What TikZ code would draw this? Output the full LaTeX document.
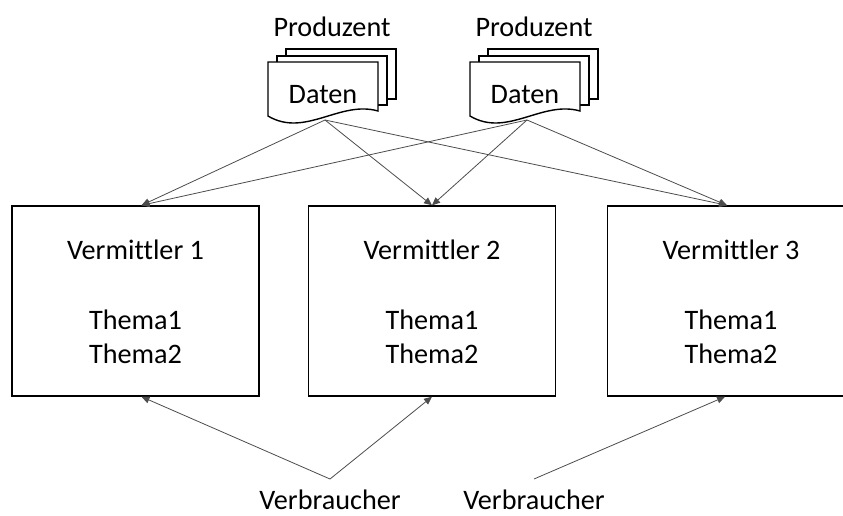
\documentclass[tikz,border=0pt]{standalone}
\usepackage{fontspec}
\setmainfont{Carlito}[Ligatures=NoCommon]
\usetikzlibrary{arrows.meta}
\begin{document}
\begin{tikzpicture}[x=1pt,y=-1pt,
  lbl/.style={font=\fontsize{28.2}{34}\selectfont, inner sep=0pt, anchor=base},
  broker/.style={draw=black, line width=1.4pt, minimum width=247pt, minimum height=190pt, inner sep=0pt},
  page/.style={draw=black, line width=1.4pt, fill=white},
  link/.style={draw=black!70, line width=0.8pt, -{Triangle[length=8pt,width=7pt]}}
]
\useasboundingbox (0,0) rectangle (843,515);
\clip (0,0) rectangle (843,515);

% producers: stacks of data sheets
\foreach \i/\dx in {1/0, 2/202} {
  \begin{scope}[xshift=\dx pt]
    \draw[page] (286,49) rectangle (396,99);
    \draw[page] (277,56) rectangle (387,105);
    \draw[page] (268,62) -- (378,62) -- (378,111)
      .. controls (340,100) and (305,138) .. (268,116) -- cycle;
    \node[lbl] (prod\i) at (332,36) {Produzent};
    \node[lbl] (daten\i) at (323,103) {Daten};
    \coordinate (out\i) at (325,120);
  \end{scope}
}

% brokers
\node[broker] (v1) at (135.5,301) {};
\node[broker] (v2) at (432,301) {};
\node[broker] (v3) at (731,301) {};
\foreach \n/\x in {1/135.5, 2/432, 3/731} {
  \node[lbl] (v\n name) at (\x,259) {Vermittler \n};
  \node[lbl] (v\n topicA) at (\x,329) {Thema1};
  \node[lbl] (v\n topicB) at (\x,363) {Thema2};
}

% consumers
\node[lbl] (c1) at (330,509) {Verbraucher};
\node[lbl] (c2) at (534,509) {Verbraucher};
\coordinate (c1top) at (330,479);
\coordinate (c2top) at (534,479);

% publishing links
\foreach \s in {out1, out2} {
  \draw[link] (\s) -- ([xshift=6pt]v1.north);
  \draw[link] (\s) -- (v2.north);
  \draw[link] (\s) -- ([xshift=-4pt]v3.north);
}

% subscribing links
\draw[link] (c1top) -- ([xshift=6pt]v1.south);
\draw[link] (c1top) -- (v2.south);
\draw[link] (c2top) -- ([xshift=-6pt]v3.south);
\end{tikzpicture}
\end{document}
